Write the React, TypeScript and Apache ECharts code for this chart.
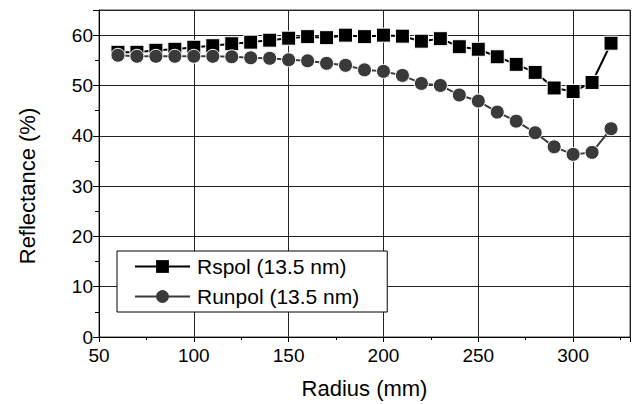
import React, { useEffect, useRef } from "react";
import * as echarts from "echarts";

const radius = [60, 70, 80, 90, 100, 110, 120, 130, 140, 150, 160, 170, 180, 190, 200, 210, 220, 230, 240, 250, 260, 270, 280, 290, 300, 310, 320];
const rspol = [56.6, 56.6, 57.0, 57.2, 57.6, 57.9, 58.3, 58.6, 59.0, 59.4, 59.7, 59.5, 60.0, 59.7, 60.0, 59.8, 58.8, 59.3, 57.7, 57.2, 55.7, 54.2, 52.6, 49.5, 48.8, 50.6, 58.4];
const runpol = [56.0, 55.8, 55.8, 55.8, 55.8, 55.8, 55.7, 55.5, 55.4, 55.1, 54.9, 54.4, 54.0, 53.1, 52.8, 52.0, 50.4, 50.0, 48.1, 46.9, 44.7, 42.9, 40.6, 37.8, 36.3, 36.7, 41.4];
const seriesNames = ["Rspol (13.5 nm)", "Runpol (13.5 nm)"];
const xTitle = "Radius (mm)";
const yTitle = "Reflectance (%)";

const FONT = "'Liberation Sans', Arial, sans-serif";

export default function App() {
  const ref = useRef<HTMLDivElement>(null);
  useEffect(() => {
    if (!ref.current) return;
    const chart = echarts.init(ref.current, undefined, { renderer: "svg" });
    const grid = { left: 99, right: 1, top: 10, bottom: 66 };
    chart.setOption({
      animation: false,
      textStyle: { fontFamily: FONT, color: "#000" },
      grid: { ...grid, show: true, borderColor: "#444", borderWidth: 1 },
      legend: {
        orient: "vertical",
        left: 117,
        top: 251,
        data: seriesNames,
        itemWidth: 55,
        itemHeight: 16,
        itemGap: 9,
        padding: [5, 28, 5, 17],
        borderColor: "#000",
        borderWidth: 1,
        backgroundColor: "#fff",
        textStyle: { fontFamily: FONT, fontSize: 21, color: "#000", lineHeight: 21, padding: [0, 0, 0, 2] },
        itemStyle: { borderWidth: 0 },
      },
      xAxis: [
        {
          type: "value",
          min: 50,
          max: 330,
          interval: 50,
          axisLine: { show: true, onZero: false, lineStyle: { color: "#000", width: 1 } },
          axisTick: { show: true, length: 5, lineStyle: { color: "#000" } },
          axisLabel: {
            fontSize: 19,
            color: "#000",
            fontFamily: FONT,
            margin: 9,
            formatter: (v: number) => (v % 50 === 0 ? String(v) : ""),
          },
          splitLine: { show: true, lineStyle: { color: "#222", width: 1 } },
          name: xTitle,
          nameLocation: "middle",
          nameGap: 40,
          nameTextStyle: { fontSize: 22, color: "#000", fontFamily: FONT },
        },
        {
          type: "value",
          min: 50,
          max: 330,
          interval: 25,
          position: "bottom",
          axisLine: { show: false },
          axisTick: { show: true, length: 3, lineStyle: { color: "#000" } },
          axisLabel: { show: false },
          splitLine: { show: false },
        },
      ],
      yAxis: [
        {
          type: "value",
          min: 0,
          max: 65,
          interval: 10,
          axisLine: { show: true, onZero: false, lineStyle: { color: "#000", width: 1 } },
          axisTick: { show: true, length: 6, lineStyle: { color: "#000" } },
          axisLabel: {
            fontSize: 19,
            color: "#000",
            fontFamily: FONT,
            margin: 6,
            formatter: (v: number) => (v % 10 === 0 ? String(v) : ""),
          },
          splitLine: { show: true, lineStyle: { color: "#222", width: 1 } },
        },
        {
          type: "value",
          min: 0,
          max: 65,
          interval: 5,
          position: "left",
          axisLine: { show: false },
          axisTick: { show: true, length: 4, lineStyle: { color: "#000" } },
          axisLabel: { show: false },
          splitLine: { show: false },
        },
      ],
      graphic: [
        {
          type: "text",
          x: 27,
          y: 186,
          rotation: Math.PI / 2,
          style: {
            text: yTitle,
            fontSize: 22,
            fontFamily: FONT,
            fill: "#000",
            align: "center",
            verticalAlign: "middle",
          },
        },
      ],
      series: [
        {
          name: seriesNames[0],
          type: "line",
          data: radius.map((r, i) => [r, rspol[i]]),
          symbol: "rect",
          symbolSize: 14,
          lineStyle: { color: "#000", width: 2 },
          itemStyle: { color: "#000", borderColor: "#fff", borderWidth: 1 },
          z: 3,
        },
        {
          name: seriesNames[1],
          type: "line",
          data: radius.map((r, i) => [r, runpol[i]]),
          symbol: "circle",
          symbolSize: 14,
          lineStyle: { color: "#3a3a3a", width: 2 },
          itemStyle: { color: "#3a3a3a", borderColor: "#fff", borderWidth: 1 },
          z: 4,
        },
      ],
    });
    return () => chart.dispose();
  }, []);
  return (
    <div
      ref={ref}
      style={{ position: "absolute", left: 0, top: 0, width: 633, height: 404, background: "#fff" }}
    />
  );
}
